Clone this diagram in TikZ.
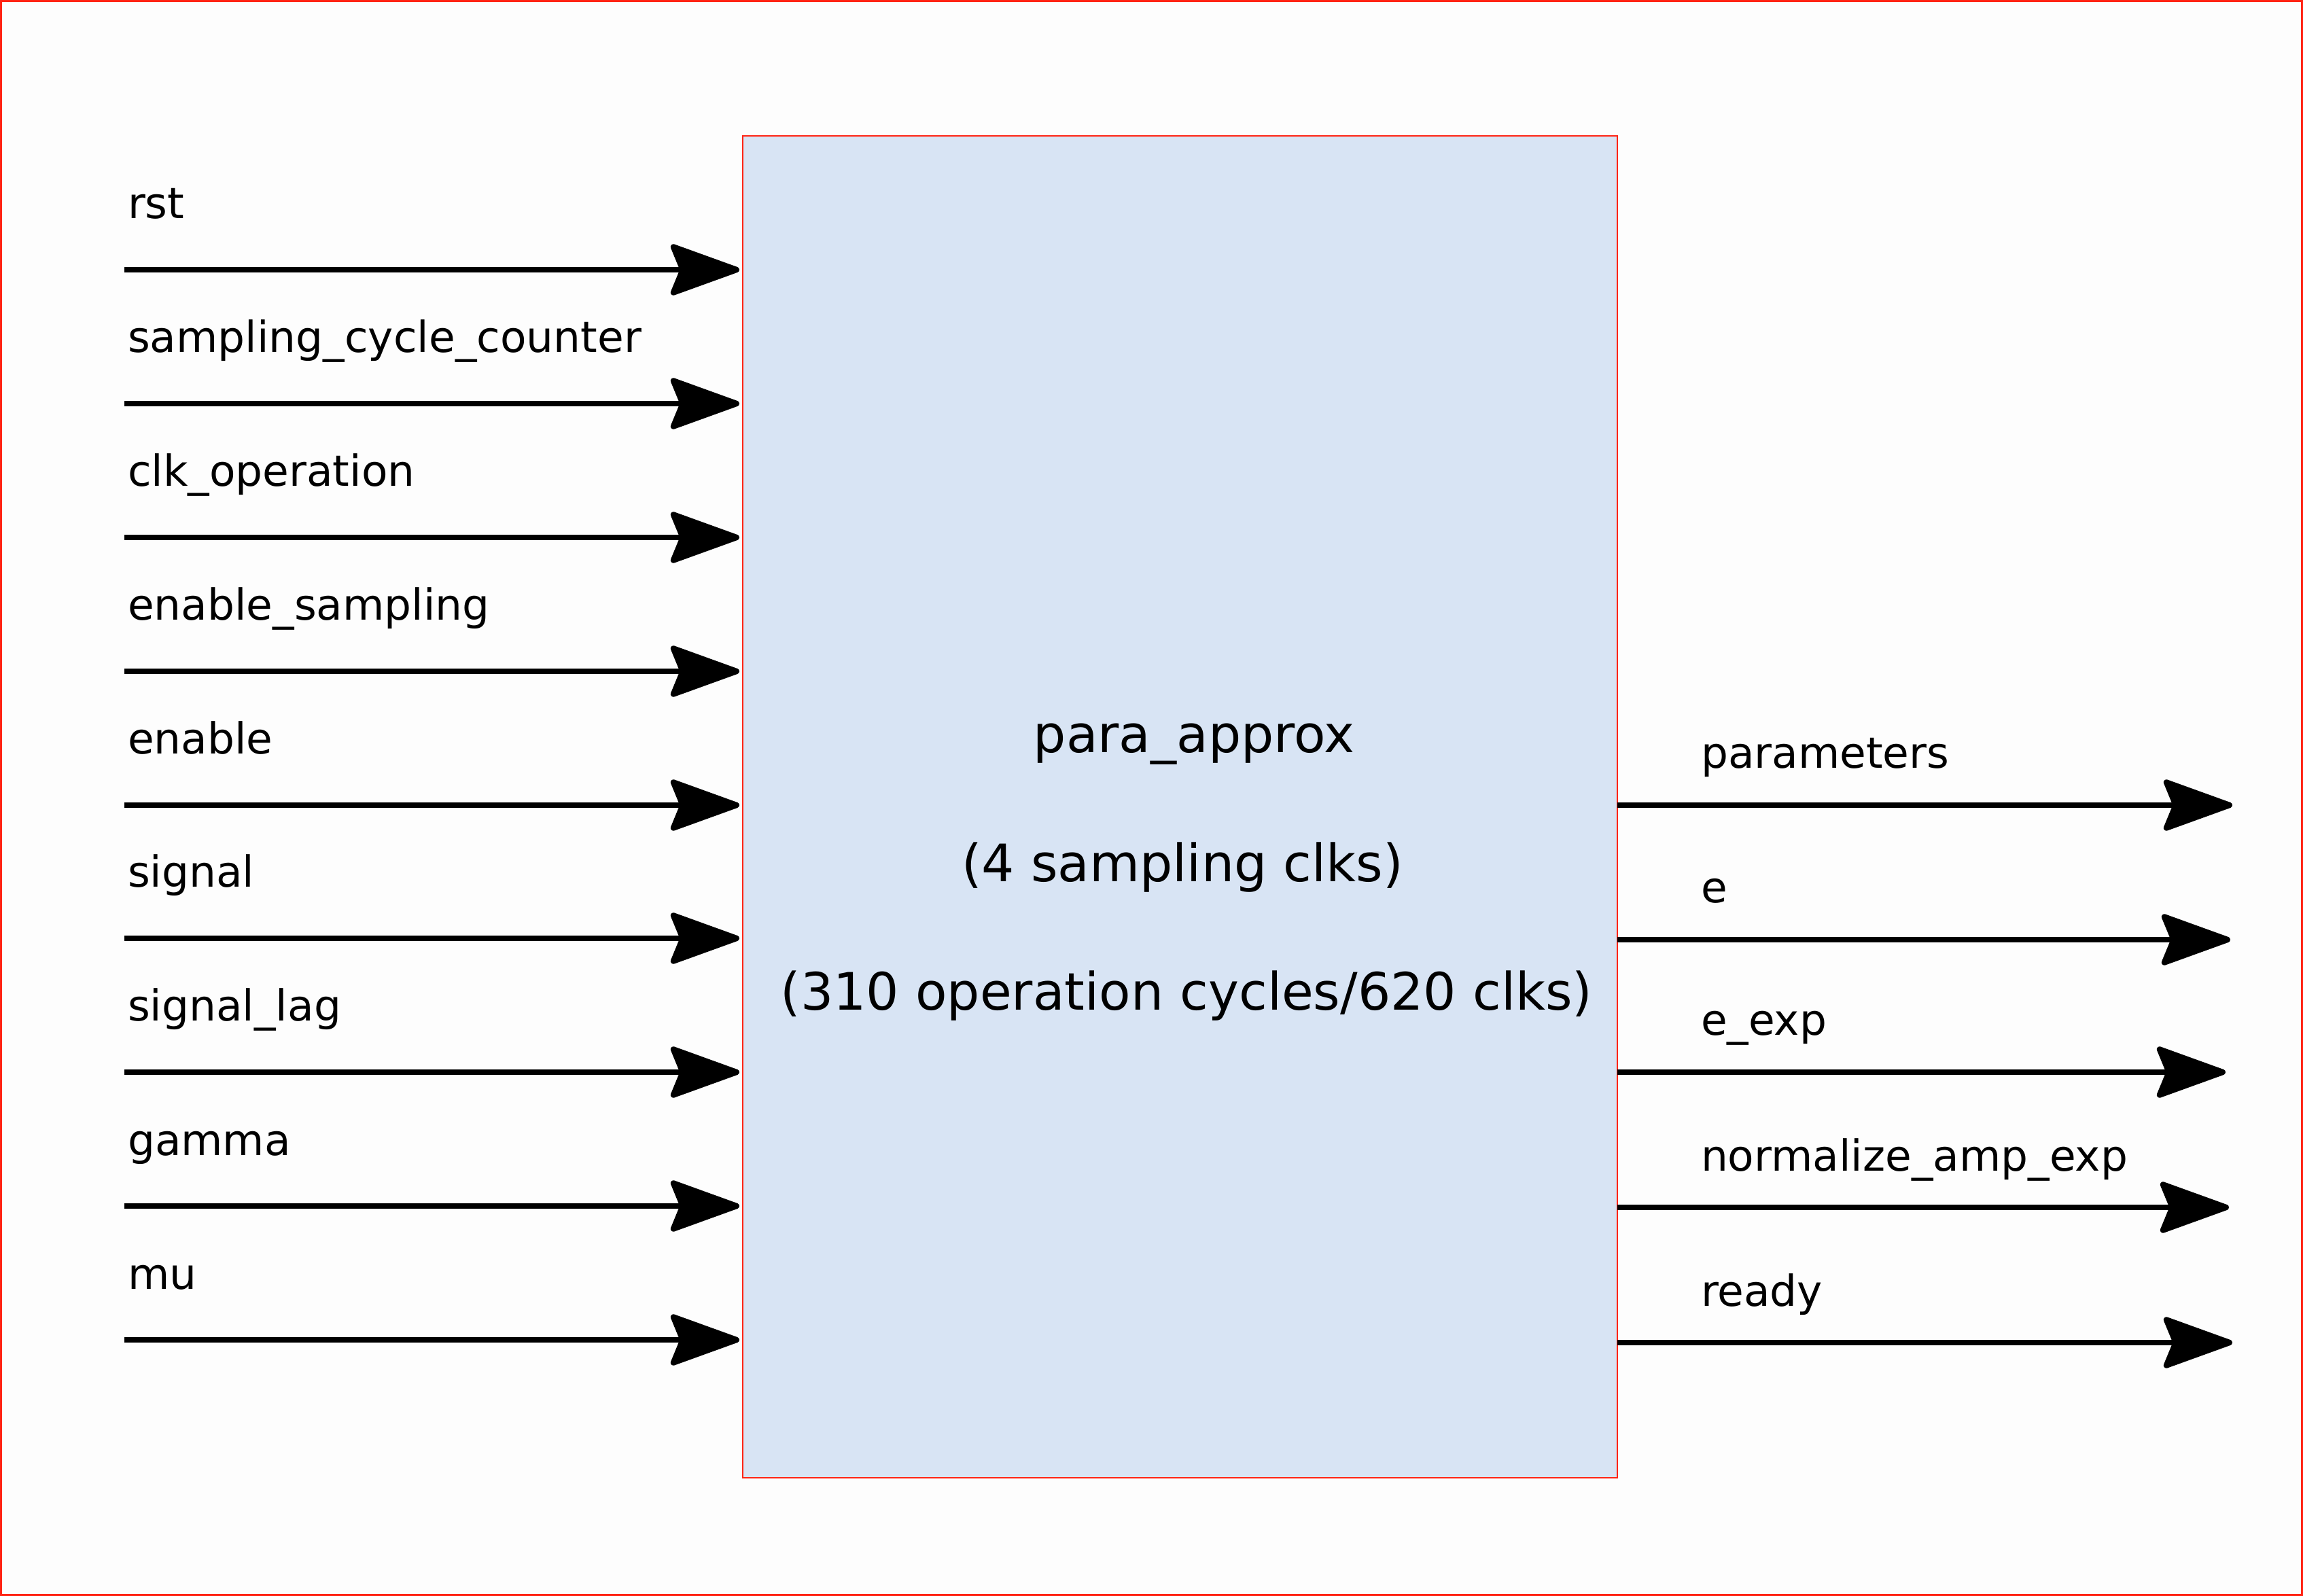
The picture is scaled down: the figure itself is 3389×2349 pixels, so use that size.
\documentclass[tikz,border=0pt]{standalone}
\usepackage{fontspec}
\setmainfont{DejaVu Sans}
\usetikzlibrary{arrows.meta}
\definecolor{bgc}{HTML}{FDFDFD}
\definecolor{boxfill}{HTML}{D8E4F4}
\definecolor{redline}{HTML}{FF2414}
\tikzset{
  sig/.style={line width=2.1bp, draw=black, -{Stealth[length=28bp, width=20bp, inset=4bp, round]}},
  lbl/.style={anchor=base west, inner sep=0pt, outer sep=0pt, font=\fontsize{15.75bp}{18bp}\selectfont},
  ctext/.style={anchor=base, inner sep=0pt, outer sep=0pt, font=\fontsize{19bp}{22bp}\selectfont},
  blockbox/.style={draw=redline, fill=boxfill, line width=0.6bp, inner sep=0pt, outer sep=0pt,
    minimum width=321.75bp, minimum height=493.75bp, anchor=north west}
}
\begin{document}
\begin{tikzpicture}[x=0.25bp, y=-0.25bp]
\useasboundingbox (0,0) rectangle (3389,2349);
\fill[bgc] (0,0) rectangle (3389,2349);
\draw[redline, line width=0.75bp] (1.5,1.5) rectangle (3387.5,2347.5);

\node[blockbox] (box) at (1093,200) {};
\node[ctext] (t1) at (1757,1108) {para\_approx};
\node[ctext] (t2) at (1740,1298) {(4 sampling clks)};
\node[ctext] (t3) at (1746,1487) {(310 operation cycles/620 clks)};

% inputs
\foreach \n/\y/\txt in {1/397/rst, 2/594/sampling\_cycle\_counter, 3/791/clk\_operation,
  4/988/enable\_sampling, 5/1185/enable, 6/1381/signal, 7/1578/signal\_lag,
  8/1775/gamma, 9/1972/mu}{
  \coordinate (in\n) at (183,\y);
  \node[lbl] (inl\n) at (188,\y-75) {\txt};
  \draw[sig, shorten >=5*0.25bp] (in\n) -- (box.west |- in\n);
}

% outputs
\foreach \n/\y/\x/\txt in {1/1185/3285/parameters, 2/1383/3282/e, 3/1578/3275/e\_exp,
  4/1777/3280/normalize\_amp\_exp, 5/1976/3285/ready}{
  \coordinate (out\n) at (\x,\y);
  \node[lbl] (outl\n) at (2503,\y-54) {\txt};
  \draw[sig] (box.east |- out\n) -- (out\n);
}
\end{tikzpicture}
\end{document}
